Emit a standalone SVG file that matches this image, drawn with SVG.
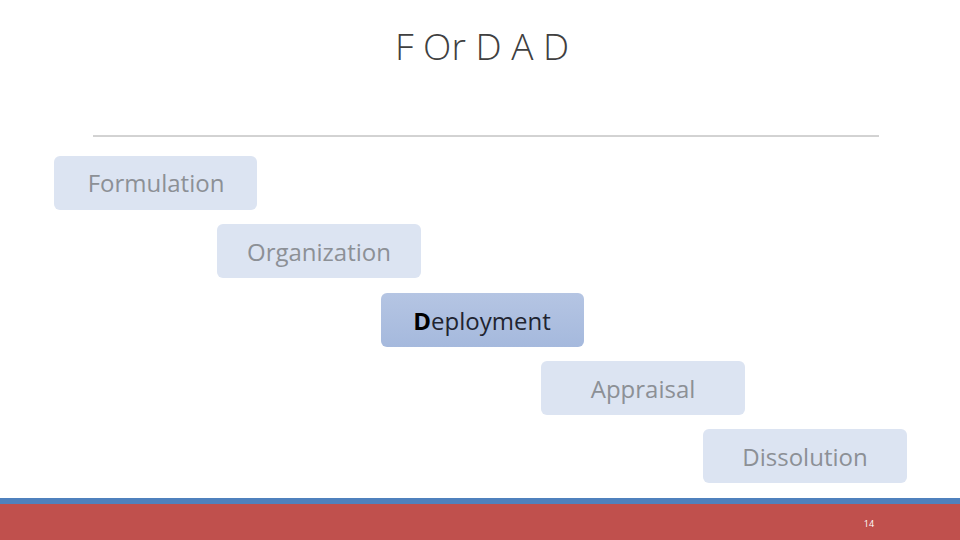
<svg xmlns="http://www.w3.org/2000/svg" width="960" height="540" viewBox="0 0 960 540">
<style>
.box{fill:#dce4f2;}
.lbl{font-family:"Open Sans","Liberation Sans",sans-serif;font-size:24px;fill:#8c9096;text-anchor:middle;}
</style>
<defs>
<linearGradient id="dg" x1="0" y1="0" x2="0" y2="1">
<stop offset="0" stop-color="#b5c5e3"/><stop offset="1" stop-color="#a5b9dd"/>
</linearGradient>
</defs>
<rect width="960" height="540" fill="#ffffff"/>
<text x="482" y="60" font-family="Open Sans, Liberation Sans, sans-serif" font-size="37" font-weight="300" fill="#404040" text-anchor="middle">F Or D A D</text>
<line x1="93" y1="136" x2="879" y2="136" stroke="#a6a6a6" stroke-width="1"/>
<g id="connectors"></g>
<g id="formulation"><rect class="box" x="54" y="156" width="203" height="54" rx="6"/><text class="lbl" x="156" y="192">Formulation</text></g>
<g id="organization"><rect class="box" x="217" y="224" width="204" height="54" rx="6"/><text class="lbl" x="319" y="261">Organization</text></g>
<g id="deployment"><rect x="381" y="293" width="203" height="54" rx="6" fill="url(#dg)"/><text class="lbl" x="482" y="330" style="fill:#1f2430"><tspan font-weight="bold" style="fill:#000">D</tspan>eployment</text></g>
<g id="appraisal"><rect class="box" x="541" y="361" width="204" height="54" rx="6"/><text class="lbl" x="643" y="398">Appraisal</text></g>
<g id="dissolution"><rect class="box" x="703" y="429" width="204" height="54" rx="6"/><text class="lbl" x="805" y="466">Dissolution</text></g>
<rect x="0" y="498" width="960" height="6" fill="#4f81bd"/>
<rect x="0" y="504" width="960" height="36" fill="#c0504d"/>
<text x="869" y="527" font-family="Open Sans, Liberation Sans, sans-serif" font-size="9" fill="#ffffff" text-anchor="middle">14</text>
</svg>
